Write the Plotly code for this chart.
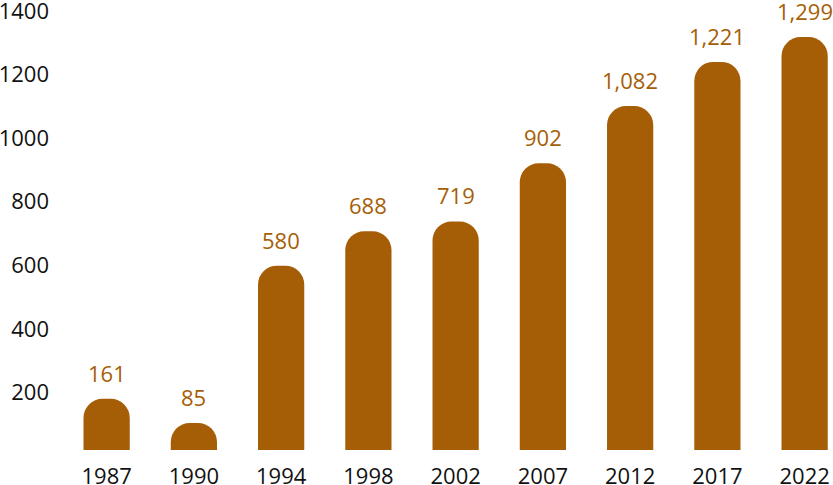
import plotly.graph_objects as go

years = ["1987", "1990", "1994", "1998", "2002", "2007", "2012", "2017", "2022"]
values = [161, 85, 580, 688, 719, 902, 1082, 1221, 1299]
value_labels = ["161", "85", "580", "688", "719", "902", "1,082", "1,221", "1,299"]
y_ticks = [200, 400, 600, 800, 1000, 1200, 1400]

BROWN = "#A65E06"
FONT = "Open Sans"

fig = go.Figure()
fig.add_trace(go.Bar(
    x=years, y=values,
    marker=dict(color=BROWN, cornerradius=19, line=dict(width=0)),
    width=0.53,
    hoverinfo="skip",
))

for i, (v, lab) in enumerate(zip(values, value_labels)):
    fig.add_annotation(
        x=i, y=v, xref="x", yref="y", text=lab, showarrow=False,
        yanchor="bottom", yshift=9,
        font=dict(family=FONT, size=22, color=BROWN),
    )

fig.update_layout(
    width=833, height=485,
    margin=dict(l=63, r=0, t=5, b=35),
    paper_bgcolor="white", plot_bgcolor="white",
    showlegend=False,
    font=dict(family=FONT, size=22, color="#111111"),
)
fig.update_xaxes(
    type="category", range=[-0.5, 8.325], automargin=False,
    showgrid=False, zeroline=False, showline=False, ticks="",
    tickfont=dict(family=FONT, size=22, color="#111111"),
    ticklabelstandoff=11, ticklabeloverflow="allow",
)
fig.update_yaxes(
    range=[0, 1400], tickvals=y_ticks, automargin=False,
    showgrid=False, zeroline=False, showline=False, ticks="",
    tickfont=dict(family=FONT, size=22, color="#111111"),
    ticklabelshift=6, ticklabelstandoff=13, ticklabeloverflow="allow",
)

fig.write_html("out.html")
